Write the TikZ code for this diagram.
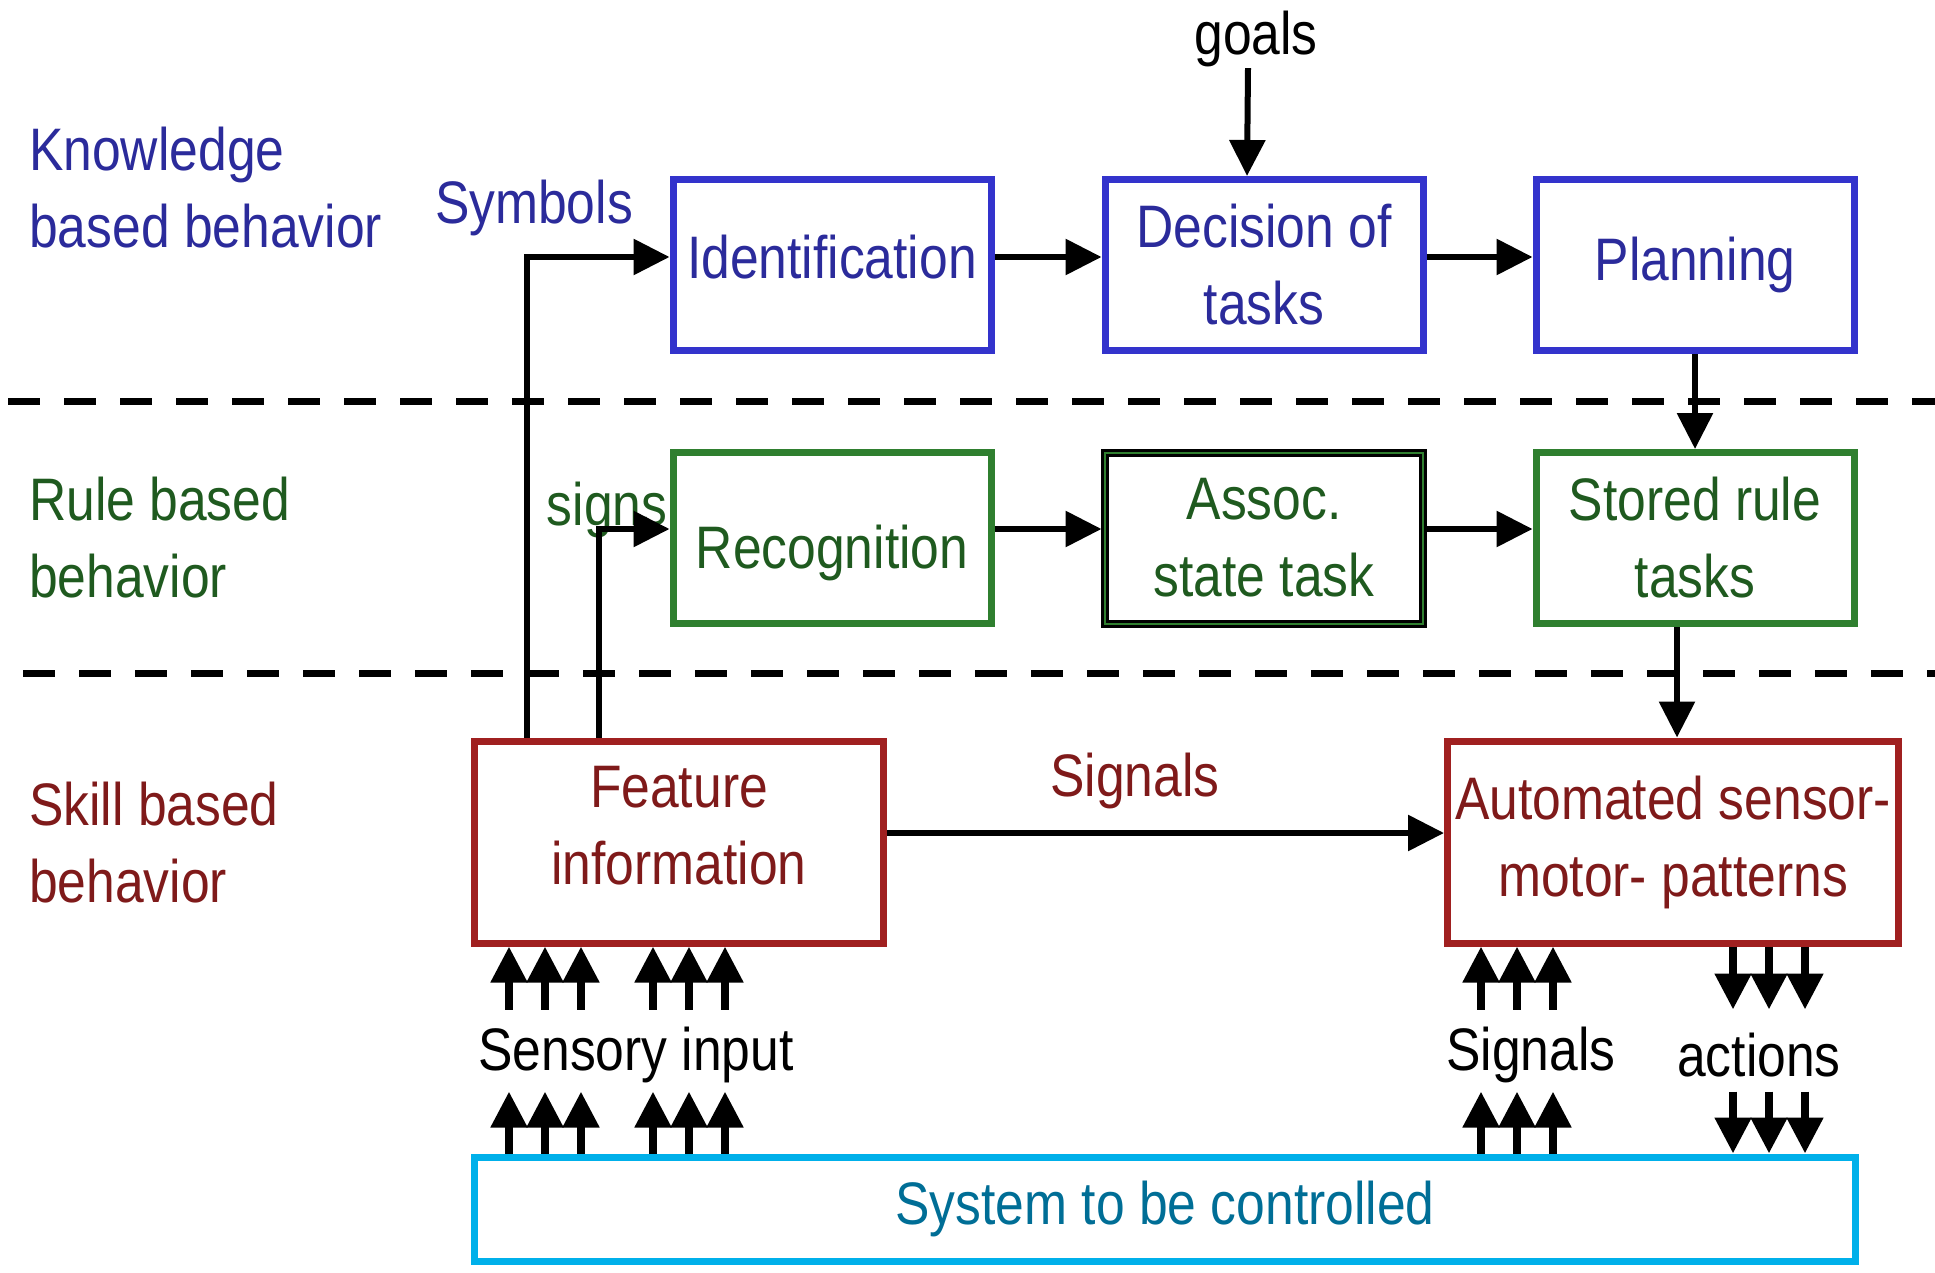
\documentclass[tikz,border=0pt]{standalone}
\usepackage{fontspec}
\setmainfont{Liberation Sans}[FakeStretch=0.86]
\usetikzlibrary{
  arrows.meta,                        % for arrow tips
  positioning
}
\definecolor{kbblue}{HTML}{3333CC}
\definecolor{kbtext}{HTML}{2B2B9B}
\definecolor{rbgreen}{HTML}{2F7F2F}
\definecolor{rbtext}{HTML}{1F5A1F}
\definecolor{sbred}{HTML}{A02020}
\definecolor{sbtext}{HTML}{7F1A1A}
\definecolor{syscyan}{HTML}{00B0EA}
\definecolor{systext}{HTML}{006E96}
\tikzstyle{flowbox} = [rectangle, draw, line width=7pt, align=center, inner sep=0pt, minimum width=318pt, minimum height=171pt]
\tikzstyle{knowstep}=[flowbox,draw=kbblue,text=kbtext]
\tikzstyle{rulestep}=[flowbox,draw=rbgreen,text=rbtext]
\tikzstyle{skillstep}=[flowbox,draw=sbred,text=sbtext,minimum height=202pt]
\tikzstyle{levelname}=[anchor=west, align=left]
\tikzstyle{flow}=[-{Triangle[length=36pt,width=35pt]}, line width=6pt]
\tikzstyle{feed}=[-{Triangle[length=36pt,width=35pt]}, line width=8pt]
\tikzstyle{layerline}=[line width=7pt, dash pattern=on 32pt off 24pt]

\begin{document}
\begin{tikzpicture}[x=1pt,y=-1pt,inner sep=1pt,font=\fontsize{60}{77}\selectfont]
\useasboundingbox (0,0) rectangle (1935,1273);
  % level separators
\draw[layerline] (8,401) -- (1935,401);
\draw[layerline] (23,673) -- (1935,673);

  % knowledge based level
\node[knowstep,text depth=16pt](ident) at (832,265) {Identification};
\node[knowstep](decision)[right=107pt of ident]{Decision of\\tasks};
\node[knowstep](planning)[right=106pt of decision]{Planning};
  % rule based level
\node[rulestep,text height=74pt,text depth=13pt](recog)[below=95pt of ident]{Recognition};
\node[rulestep,draw=black,double=rbgreen,double distance=2pt,line width=3pt,outer sep=3.5pt](assoc)[below=95pt of decision]{Assoc.\\state task};
\node[rulestep](stored)[below=95pt of planning]{Stored rule\\tasks};
  % skill based level
\node[skillstep,minimum width=409pt,text depth=34pt](feature) at (679,842) {Feature\\information};
\node[skillstep,minimum width=451pt](auto) at (1673,842) {Automated sensor-\\motor- patterns};
\node[flowbox,draw=syscyan,text=systext,minimum width=1381pt,minimum height=104pt](system) at (1165,1209) {System to be controlled};

  % level names and signal labels
\node[levelname,text=kbtext](knowledge) at (28,188) {Knowledge\\based behavior};
\node[levelname,text=rbtext](rule) at (28,538) {Rule based\\behavior};
\node[levelname,text=sbtext](skill) at (28,843) {Skill based\\behavior};
\node[text=kbtext](symbols) at (534,208) {Symbols};
\node[text=rbtext](signs) at (607,510) {signs};
\node[text=sbtext](signals) at (1135,781) {Signals};
\node(goals) at (1256,39) {goals};
\node(sensory) at (636,1055) {Sensory input};
\node(signalsin) at (1531,1055) {Signals};
\node(actions) at (1759,1055) {actions};

  % connectors
\draw[flow] ([xshift=-8pt]goals.south) -- ([xshift=-17pt]decision.north);
\draw[flow] ([yshift=8pt]ident.east) -- ([yshift=8pt]decision.west);
\draw[flow] ([yshift=8pt]decision.east) -- ([yshift=8pt]planning.west);
\draw[flow] (planning.south) -- (stored.north);
\draw[flow] ([yshift=9pt]recog.east) -- ([yshift=9pt]assoc.west);
\draw[flow] ([yshift=9pt]assoc.east) -- ([yshift=9pt]stored.west);
\draw[flow] ([xshift=-18pt]stored.south) -- ([xshift=-18pt]stored.south |- auto.north);
\draw[flow] ([xshift=56pt]feature.north west) |- ([yshift=8pt]ident.west);
\draw[flow] ([xshift=128pt]feature.north west) |- ([yshift=9pt]recog.west);
\draw[flow] ([yshift=9pt]feature.east) -- ([yshift=9pt]auto.west);

  % sensory input, signals and actions
\foreach \dx in {38,74,110,182,218,254}{
  \draw[feed] ([xshift=\dx pt,yshift=-63pt]feature.south west) -- ([xshift=\dx pt]feature.south west);
  \draw[feed] ([xshift=\dx pt]feature.south west |- system.north) -- ++(0,-62);
}
\foreach \dx in {37,73,109}{
  \draw[feed] ([xshift=\dx pt,yshift=-63pt]auto.south west) -- ([xshift=\dx pt]auto.south west);
  \draw[feed] ([xshift=\dx pt]auto.south west |- system.north) -- ++(0,-62);
}
\foreach \dx in {289,325,361}{
  \draw[feed] ([xshift=\dx pt]auto.south west) -- ++(0,63);
  \draw[feed] ([xshift=\dx pt,yshift=62pt]auto.south west |- system.north) -- ([xshift=\dx pt]auto.south west |- system.north);
}
\end{tikzpicture}
\end{document}
